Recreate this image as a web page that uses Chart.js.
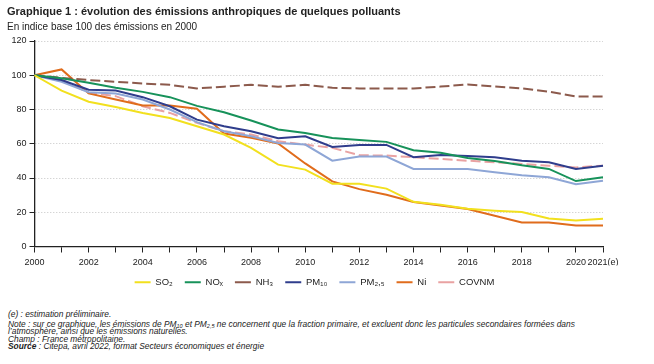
<!DOCTYPE html>
<html>
<head>
<meta charset="utf-8">
<script src="https://cdn.jsdelivr.net/npm/chart.js@4.4.0/dist/chart.umd.min.js"></script>
<style>
  body { margin: 0; background: #fff; font-family: "Liberation Sans", Arial, sans-serif; color: #222; }
  #wrap { position: relative; width: 654px; height: 364px; overflow: hidden; }
  #myChart { position: absolute; left: 0; top: 0; }
  .title { position: absolute; left: 7px; top: 5px; font-size: 11px; font-weight: bold; }
  .sub { position: absolute; left: 7px; top: 21px; font-size: 10px; }
  .notes { position: absolute; left: 8px; top: 310.5px; font-size: 8.4px; font-style: italic; line-height: 7.5px; }
  .notes div { margin: 0; }
  .notes sub { font-size: 5.5px; vertical-align: -1px; line-height: 0; }
</style>
</head>
<body>
<div id="wrap">
  <canvas id="myChart" width="628" height="297"></canvas>
  <div class="title">Graphique 1 : évolution des émissions anthropiques de quelques polluants</div>
  <div class="sub">En indice base 100 des émissions en 2000</div>
  <div class="notes">
    <div style="margin-bottom:2.7px">(e) : estimation préliminaire.</div>
    <div>Note : sur ce graphique, les émissions de PM<sub>10</sub> et PM<sub>2,5</sub> ne concernent que la fraction primaire, et excluent donc les particules secondaires formées dans</div>
    <div>l’atmosphère, ainsi que les émissions naturelles.</div>
    <div>Champ : France métropolitaine.</div>
    <div><b>Source</b> : Citepa, avril 2022, format Secteurs économiques et énergie</div>
  </div>
</div>
<script>
"use strict";

const ctx = document.getElementById("myChart");

const years = ["2000", "2001", "2002", "2003", "2004", "2005", "2006", "2007", "2008", "2009", "2010",
  "2011", "2012", "2013", "2014", "2015", "2016", "2017", "2018", "2019", "2020", "2021(e)"];

const so2 = [100, 91, 84.5, 81.4, 78, 75, 70.2, 65.4, 57.6, 47.8, 44.9, 36.7, 36.7, 33.8, 26.1, 24.4, 22, 20.9, 20.1, 16.4, 15.2, 16.2];
const nox = [100, 98.3, 95.6, 92.7, 90.3, 87.2, 82.1, 78.4, 73.6, 68.3, 66.3, 63.4, 62.2, 61.1, 56.2, 54.8, 51.7, 49.9, 47.4, 45.3, 38.2, 40.4];
const nh3 = [100, 98.5, 97.2, 96.2, 95.2, 94.4, 92.3, 93.3, 94.4, 93.3, 94.4, 92.7, 92.3, 92.3, 92.3, 93.4, 94.6, 93.4, 92.3, 90.4, 87.6, 87.6];
const pm10 = [100, 97.2, 91.5, 91.1, 87.2, 81.9, 74.1, 70.2, 67.3, 63.2, 64.4, 58.1, 59.3, 59.3, 52.1, 53.5, 52.9, 52.1, 50.1, 49.2, 45.3, 47.2];
const pm25 = [100, 96.2, 90.1, 89.4, 85.8, 80, 72.6, 67.3, 64.4, 60.5, 59.5, 50.1, 52.5, 52.5, 45.3, 45.3, 45.3, 43.3, 41.6, 40.4, 36.3, 38.4];
const ni = [100, 103.4, 89.4, 85.8, 82.3, 82.3, 80.4, 66, 63.5, 60.2, 48.5, 38, 33.5, 30.2, 26, 24, 21.9, 18, 14, 14, 12.3, 12.3];
const covnm = [100, 97.6, 89.7, 87.8, 81.9, 78, 72.2, 67.3, 65.4, 61.5, 59.5, 57.6, 53.3, 53.1, 52.1, 51.1, 50.1, 49.2, 48.2, 47.2, 46.2, 47.2];

const yellow = "#f2e01e";
const green = "#17925a";
const brown = "#8c5a4c";
const navy = "#2f3d8c";
const skyBlue = "#8ea6d6";
const orange = "#e06c1c";
const pink = "#e9a2a2";

function serie(label, values, color, dash) {
  return {
    label: label,
    data: values,
    borderColor: color,
    backgroundColor: color,
    borderWidth: 2,
    borderDash: dash || [],
    pointRadius: 0,
    tension: 0,
  };
}

const data = {
  labels: years,
  datasets: [
    serie("SO₂", so2, yellow),
    serie("NOₓ", nox, green),
    serie("NH₃", nh3, brown, [10, 4]),
    serie("PM₁₀", pm10, navy),
    serie("PM₂,₅", pm25, skyBlue),
    serie("Ni", ni, orange),
    serie("COVNM", covnm, pink, [10, 4]),
  ],
};

const tickFont = { family: "'Liberation Sans', Arial, sans-serif", size: 9 };

// nudge the legend so it sits under the middle of the plot, like the original
const shiftLegend = {
  id: "shiftLegend",
  afterLayout(chart) {
    chart.legend.left += 13;
    chart.legend.right += 13;
  },
};

const config = {
  type: "line",
  data: data,
  plugins: [shiftLegend],
  options: {
    responsive: false,
    animation: false,
    layout: {
      padding: { top: 41, right: 25, left: 0, bottom: 0 },
    },
    scales: {
      x: {
        grid: {
          drawOnChartArea: false,
          tickLength: 6,
          tickColor: "#222",
        },
        border: { color: "#222", width: 1.3 },
        ticks: {
          autoSkip: false,
          maxRotation: 0,
          color: "#222",
          font: tickFont,
          padding: 5,
          callback: function (value, index) {
            if (index % 2 === 0 || index === years.length - 1) return years[index];
            return "";
          },
        },
        afterFit: (scale) => {
          scale.height = 19;
        },
      },
      y: {
        min: 0,
        max: 120,
        ticks: { stepSize: 20, color: "#222", font: tickFont, padding: 3 },
        grid: {
          color: "#c4c4c4",
          tickColor: "#222",
          tickLength: 5,
          tickBorderDash: [],
        },
        border: { color: "#222", width: 1.3, dash: [1, 2] },
        afterFit: (scale) => {
          scale.width = 34.5;
        },
      },
    },
    plugins: {
      legend: {
        position: "bottom",
        labels: {
          usePointStyle: true,
          pointStyle: "line",
          pointStyleWidth: 16,
          boxHeight: 9,
          padding: 12,
          color: "#222",
          font: { family: "'Liberation Sans', Arial, sans-serif", size: 9.5 },
        },
      },
      tooltip: { enabled: false },
    },
  },
};

new Chart(ctx, config);
</script>
</body>
</html>
